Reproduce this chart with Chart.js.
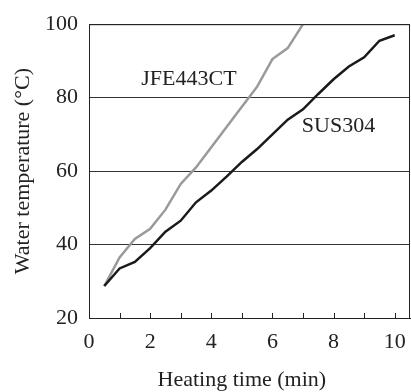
<!DOCTYPE html>
<html>
<head>
<meta charset="utf-8">
<script src="https://cdn.jsdelivr.net/npm/chart.js@4"></script>
<style>
  html, body { margin: 0; padding: 0; background: #fff; }
</style>
</head>
<body>
<canvas id="chart" width="411" height="392"></canvas>
<script>
// heating time (min)
const times = [0.5, 1, 1.5, 2, 2.5, 3, 3.5, 4, 4.5, 5, 5.5, 6, 6.5, 7, 7.5, 8, 8.5, 9, 9.5, 10];
// water temperature (°C)
const sus304 = [28.7, 33.5, 35.3, 39, 43.5, 46.5, 51.5, 54.7, 58.5, 62.5, 66, 70, 74, 76.8, 81, 85, 88.5, 91, 95.5, 97];
const jfe443ct = [28.7, 36.5, 41.5, 44.3, 49.5, 56.5, 61, 66.5, 72, 77.5, 83, 90.5, 93.5, 100];
// x tick positions (labels only on even ones)
const xTicks = [0, 1, 2, 3, 4, 5, 6, 7, 8, 9, 10];
// series labels placed in data coordinates: [text, time, temp]
const seriesLabels = [["JFE443CT", 1.71, 85.1], ["SUS304", 6.96, 72.3]];

const FONT = "'Liberation Serif', 'Times New Roman', serif";
const ink = "#222";

const toPoints = (ys) => ys.map((y, i) => ({ x: times[i], y: y }));

const extras = {
  id: "extras",
  afterDraw(chart) {
    const { ctx, chartArea: a, scales } = chart;
    const x = scales.x, y = scales.y;
    ctx.save();
    // frame top / right
    ctx.strokeStyle = ink;
    ctx.lineWidth = 1;
    ctx.beginPath();
    ctx.moveTo(a.left, a.top + 0.5);
    ctx.lineTo(a.right - 0.5, a.top + 0.5);
    ctx.lineTo(a.right - 0.5, a.bottom);
    ctx.stroke();
    // inward tick marks on x axis
    ctx.beginPath();
    x.ticks.forEach((t) => {
      if (t.value > 0) {
        const px = Math.round(x.getPixelForValue(t.value)) + 0.5;
        ctx.moveTo(px, a.bottom);
        ctx.lineTo(px, a.bottom - 5);
      }
    });
    ctx.stroke();
    // series labels
    ctx.fillStyle = ink;
    ctx.font = "22px " + FONT;
    ctx.textBaseline = "middle";
    ctx.textAlign = "left";
    seriesLabels.forEach(([txt, tx, ty]) => {
      ctx.fillText(txt, x.getPixelForValue(tx), y.getPixelForValue(ty));
    });
    // x title centred on 0..10
    ctx.textAlign = "center";
    ctx.fillText("Heating time (min)", x.getPixelForValue(5), 380);
    ctx.restore();
  }
};

function draw() {
  new Chart(document.getElementById("chart"), {
    type: "line",
    data: {
      datasets: [
        {
          label: "SUS304",
          data: toPoints(sus304),
          borderColor: "#1a1a1a",
          borderWidth: 2.5,
          pointRadius: 0,
          tension: 0,
        },
        {
          label: "JFE443CT",
          data: toPoints(jfe443ct),
          borderColor: "#9a9a9a",
          borderWidth: 2.5,
          pointRadius: 0,
          tension: 0,
        },
      ],
    },
    options: {
      responsive: false,
      animation: false,
      layout: { padding: { top: 23, right: 1, left: 0, bottom: 0 } },
      plugins: { legend: { display: false }, tooltip: { enabled: false } },
      scales: {
        x: {
          type: "linear",
          min: 0,
          max: 10.5,
          afterBuildTicks: (s) => { s.ticks = xTicks.map((v) => ({ value: v })); },
          afterFit: (s) => { s.height = 74; },
          grid: { display: false },
          border: { display: true, color: ink, width: 1 },
          ticks: {
            padding: 3,
            color: ink,
            font: { family: FONT, size: 22 },
            maxRotation: 0,
            autoSkip: false,
            callback: (v) => (v % 2 === 0 ? String(v) : ""),
          },
        },
        y: {
          min: 20,
          max: 100,
          afterFit: (s) => { s.width = 89; },
          grid: { color: "#333", lineWidth: 1, drawTicks: false },
          border: { display: true, color: ink, width: 1 },
          ticks: {
            stepSize: 20,
            padding: 11,
            color: ink,
            font: { family: FONT, size: 22 },
          },
          title: {
            display: true,
            text: "Water temperature (°C)",
            color: ink,
            font: { family: FONT, size: 22 },
            padding: { top: 10, bottom: 0 },
          },
        },
      },
    },
    plugins: [extras],
  });
}

document.fonts.load("22px 'Liberation Serif'").then(draw, draw);
</script>
</body>
</html>
